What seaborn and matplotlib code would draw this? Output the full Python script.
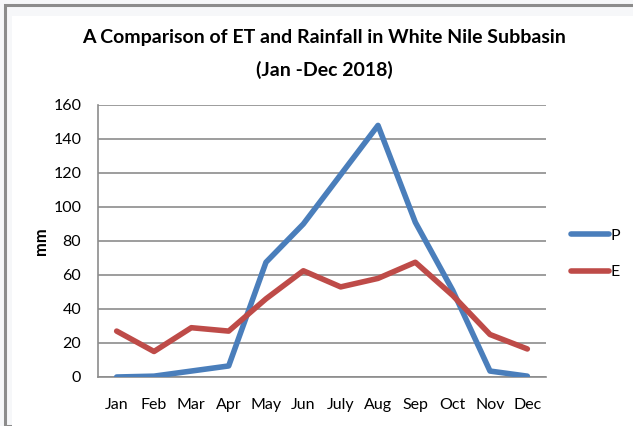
import matplotlib
matplotlib.use("Agg")
import matplotlib.pyplot as plt
import matplotlib.patches as mpatches
import seaborn as sns
import pandas as pd

months = ["Jan", "Feb", "Mar", "Apr", "May", "Jun", "July", "Aug", "Sep", "Oct", "Nov", "Dec"]
rainfall_p = [0, 0.5, 3.5, 6.5, 67.5, 90, 119, 148, 91, 51, 3.5, 0.5]
et_e = [27, 15, 29, 27, 46, 62.5, 53, 58, 67.5, 48, 25, 16.5]
series_names = ["P", "E"]
yticks = [0, 20, 40, 60, 80, 100, 120, 140, 160]

df = pd.DataFrame({"Month": months, "P": rainfall_p, "E": et_e})
long = df.melt(id_vars="Month", value_vars=series_names, var_name="Series", value_name="mm")
long["x"] = long["Month"].map({m: i for i, m in enumerate(months)})

sns.set_theme(style="white")
plt.rcParams["font.family"] = ["Lato", "DejaVu Sans"]
plt.rcParams["text.color"] = "black"
plt.rcParams["axes.labelcolor"] = "black"

W, H = 633, 426
fig = plt.figure(figsize=(W / 100, H / 100), dpi=100)
fig.patch.set_facecolor("#f6f7f9")

# chart frame: grey border line, pale band, then white chart area
fig.patches.append(mpatches.Rectangle((5 / W, 0), 1, 1 - 5 / H, transform=fig.transFigure,
                                      facecolor="#f6f7f9", edgecolor="#8c8c8c", linewidth=2.2,
                                      zorder=0))
fig.patches.append(mpatches.Rectangle((12 / W, 0), 1, 1 - 16 / H, transform=fig.transFigure,
                                      facecolor="white", edgecolor="none", zorder=0.5))

ax = fig.add_axes([98 / W, 49 / H, 448 / W, 272 / H])
ax.set_zorder(2)
ax.set_facecolor("none")

palette = {"P": "#4a7ebb", "E": "#be4b48"}
sns.lineplot(data=long, x="x", y="mm", hue="Series", hue_order=series_names,
             palette=palette, linewidth=4, ax=ax, legend=False, zorder=3,
             solid_capstyle="round")

ax.set_xlim(-0.5, 11.5)
ax.set_ylim(0, 160)
ax.set_yticks(yticks)
ax.set_xticks(range(len(months)))
ax.set_xticklabels(months)
ax.yaxis.grid(True, color="#8c8c8c", linewidth=1.2)
ax.set_axisbelow(True)
for s in ["top", "right"]:
    ax.spines[s].set_visible(False)
for s in ["left", "bottom"]:
    ax.spines[s].set_color("#8c8c8c")
    ax.spines[s].set_linewidth(1.2)
ax.tick_params(axis="both", length=0, labelsize=11.5, colors="black")
ax.tick_params(axis="y", pad=12)
ax.tick_params(axis="x", pad=15)
ax.set_xlabel("")
ax.set_ylabel("mm", fontsize=12, fontweight="bold", labelpad=3, color="black")

fig.text(324 / W, 1 - 38 / H, "A Comparison of ET and Rainfall in White Nile Subbasin",
         ha="center", va="center", fontsize=14, fontweight="bold", color="black")
fig.text(324 / W, 1 - 70 / H, "(Jan -Dec 2018)",
         ha="center", va="center", fontsize=14, fontweight="bold", color="black")

handles = [plt.Line2D([], [], color=palette[n], linewidth=4, solid_capstyle="round")
           for n in series_names]
leg = fig.legend(handles, series_names, loc="center left", bbox_to_anchor=(571 / W, 1 - 254 / H),
                 frameon=False, fontsize=11.5, handlelength=2.4, handletextpad=0.1,
                 labelspacing=1.4, borderpad=0, borderaxespad=0)
for t in leg.get_texts():
    t.set_color("black")

fig.savefig("out.png", dpi=100)
